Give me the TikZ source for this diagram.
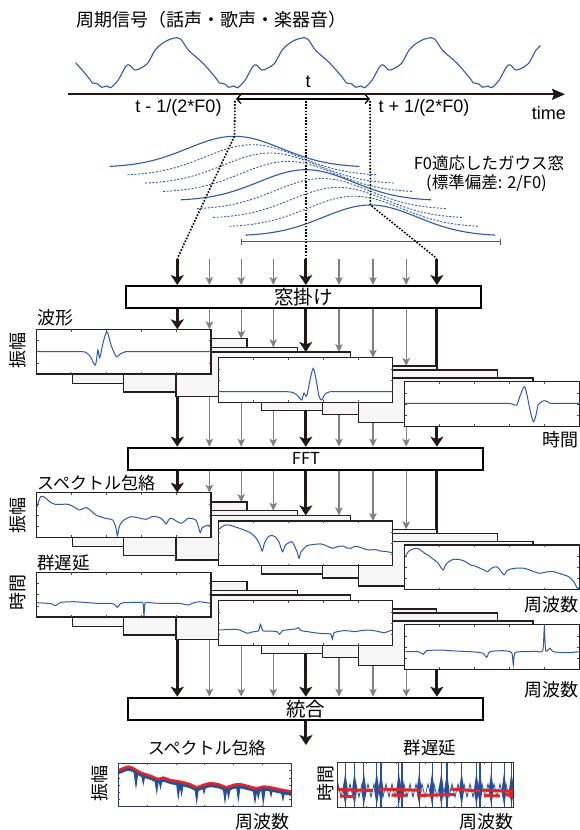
\documentclass[tikz,border=0pt]{standalone}
\usepackage{fontspec}
\setmainfont{Noto Sans CJK JP}
\newfontfamily\latf{Liberation Sans}
\usetikzlibrary{arrows.meta}
\newcommand\fsz[1]{\fontsize{#1}{#1}\selectfont}
\definecolor{dk}{RGB}{35,24,21}
\definecolor{ag}{RGB}{128,128,128}
\definecolor{pb}{RGB}{35,31,32}
\definecolor{shf}{RGB}{247,247,247}
\definecolor{bl}{RGB}{46,90,168}
\definecolor{bf}{RGB}{38,78,155}
\definecolor{rd}{RGB}{226,38,38}
\definecolor{navy}{RGB}{40,55,100}
\newcommand\shpanel[2]{\draw[shp] ({#1},{#2}) rectangle ++(174.5,44.7);}
\newcommand\mnpanel[2]{\draw[mnp] ({#1},{#2}) rectangle ++(174.5,44.7);
  \foreach \q in {1,...,4} {\draw[tck] ({#1+34.9*\q},{#2}) -- ++(0,2.2); \draw[tck] ({#1+34.9*\q},{#2+44.7}) -- ++(0,-2.2);}
  \foreach \q in {1,2,3} {\draw[tck] ({#1},{#2+11.175*\q}) -- ++(2.2,0); \draw[tck] ({#1+174.5},{#2+11.175*\q}) -- ++(-2.2,0);}}
\newcommand\panelstack[1]{\shpanel{72.4}{#1+9.4}\shpanel{123.3}{#1+18}\shpanel{176.1}{#1+22.7}%
  \shpanel{261.8}{#1+36.7}\shpanel{322.7}{#1+40.7}\shpanel{358.6}{#1+48.7}%
  \mnpanel{36.5}{#1}\mnpanel{218.2}{#1+28.4}\mnpanel{404.7}{#1+52.4}}
\begin{document}
\begin{tikzpicture}[x=1pt,y=-1pt,
  lbl/.style={inner sep=0pt},
  thk/.style={line width=3pt, draw=dk, -{Stealth[length=10pt,width=13pt,inset=2.5pt]}},
  thkn/.style={line width=3pt, draw=dk},
  gry/.style={line width=1.4pt, draw=ag, -{Stealth[length=8pt,width=7.5pt,inset=2pt]}},
  shp/.style={line width=1.3pt, draw=pb, fill=shf},
  mnp/.style={line width=1.3pt, draw=pb, fill=white},
  tck/.style={line width=0.5pt, draw=black!70},
  sig/.style={draw=bl, line width=1.1pt},
  crv/.style={draw=bl, line width=1pt},
  gsol/.style={draw=bl, line width=1.1pt},
  gdsh/.style={draw=bl, line width=0.9pt, dash pattern=on 2pt off 1.6pt},
  dotl/.style={draw=black, line width=1.6pt, dash pattern=on 1.6pt off 1.6pt},
  procbox/.style={draw=black, line width=2pt, fill=white, minimum width=355pt, minimum height=22pt, inner sep=0pt}]
\useasboundingbox (0,0) rectangle (579,830);
\fill[white] (0,0) rectangle (579,830);

% ---- title and signal
\node[lbl, anchor=west] (title) at (76,20) {\fsz{18}周期信号（話声・歌声・楽器音）};
\begin{scope}
\clip (75.7,20) rectangle (540.5,92);
\foreach \k in {-1,...,3} {
  \draw[sig, shift={(127*\k,0)}] plot[smooth, tension=0.5] coordinates {(92.3,83) (97.9,84) (101.6,87.3) (107.1,86) (110.8,87.7) (118.2,80) (125.6,66.7) (129.3,65) (134.8,70) (140.3,68.3) (147.7,63.3) (155.1,50) (162.5,43.3) (169.9,39.3) (177.3,37.7) (181,39.3) (188.3,50) (195.7,56.7) (203.1,63.3) (214.2,76) (219.3,83)};
}
\end{scope}
\coordinate (ax0) at (68,94.3);
\coordinate (ax1) at (565,94.3);
\draw[dk, line width=2pt, -{Stealth[length=13pt,width=11pt,inset=2pt]}] (ax0) -- (ax1);
\node[lbl] (tlab) at (308,81.7) {\latf\fsz{18}t};
\coordinate (tm) at (236,99);
\coordinate (tp) at (370,99);
\draw[line width=1.3pt, {Straight Barb[length=4pt,width=9pt]}-{Straight Barb[length=4pt,width=9pt]}] (tm) -- (tp);
\node[lbl] (tmlab) at (178.5,108.3) {\latf\fsz{18}t - 1/(2*F0)};
\node[lbl] (tplab) at (424,108.3) {\latf\fsz{18}t + 1/(2*F0)};
\node[lbl, anchor=east] (timelab) at (566,113.3) {\latf\fsz{18}time};

% ---- gaussian windows
\foreach \c/\b/\s in {252.3/175.7/gdsh, 270.2/184.0/gdsh, 288.0/192.4/gdsh, 322.0/209.5/gdsh, 338.1/218.4/gdsh, 354.3/227.2/gdsh, 234.5/167.3/gsol, 305.8/200.7/gsol, 370.4/236.0/gsol} {
  \draw[\s] plot[domain=-125:125, samples=90, smooth] ({\c+\x},{\b-31*exp(-0.5*(\x/47)^2)});
}
\draw[black!65, line width=1pt] (241.9,238.5) -- (241.9,244.9) (241.9,241.7) -- (500.4,241.7) (500.4,238.5) -- (500.4,244.9);
\node[lbl] (gw1) at (489,163.3) {\fsz{16.5}F0適応したガウス窓};
\node[lbl] (gw2) at (486.5,183.3) {\fsz{16.5}(標準偏差: 2/F0)};

% ---- columns
\foreach \i/\xx in {1/177.3,2/209.4,3/241.2,4/273.3,5/305.8,6/339,7/373,8/406.2,9/436.9}
  \coordinate (c\i) at (\xx,258.5);
\draw[dotl] (235,101) -- (234.5,136) -- (c1);
\draw[dotl] (305.8,101) -- (c5);
\draw[dotl] (370,101) -- (370.4,205) -- (c9);

% ---- process boxes
\node[procbox] (win) at (303.35,297) {\fsz{19.5}窓掛け};
\node[procbox] (fft) at (305.95,458.7) {\fsz{16.5}FFT};
\node[procbox] (merge) at (305.95,708.7) {\fsz{19.5}統合};

% ---- arrows
\foreach \i/\xx/\sa/\sb/\dd in {1/177.3/thk/thk/0, 2/209.4/gry/gry/0, 3/241.2/gry/gry/9.4, 4/273.3/gry/gry/18, 5/305.8/thk/thk/22.7, 6/339/gry/gry/22.7, 7/373/gry/gry/28.4, 8/406.2/gry/gry/36.7, 9/436.9/thk/thkn/40.7} {
  \draw[\sa] (c\i) -- (c\i |- win.north);
  \draw[\sb] (c\i |- win.south) -- (\xx,{329.3+\dd});
  \draw[\sa] (\xx,385) -- (c\i |- fft.north);
  \draw[\sb] (c\i |- fft.south) -- (\xx,{492.7+\dd});
  \draw[\sa] (\xx,628) -- (c\i |- merge.north);
}
\coordinate (outp) at (305.95,745);
\draw[thk] (merge.south) -- (outp);

% ---- panel stacks
\panelstack{329.3}
\panelstack{492.7}
\panelstack{572.3}

% section 1 waveforms
\draw[crv] (36.5,351.7) -- (79.4,351.7) plot[smooth, tension=0.5] coordinates {(79.4,351.7) (85,352) (90,356) (95.3,365) (97.9,350) (99.7,358) (103,343) (107,331.7) (111,345) (116.3,356.7) (120,354) (125.6,351.7)} -- (210.3,351.7);
\draw[crv] (218.2,391.7) -- (286.7,391.7) plot[smooth, tension=0.5] coordinates {(286.7,391.7) (293,392.5) (298,396) (301.7,400) (304,393) (306.7,396) (310,380) (313.3,368.3) (316.5,382) (319,396) (321.7,400) (325,394) (330,391.7)} -- (392,391.7);
\draw[crv] (404.7,403.3) -- (508.3,403.3) plot[smooth, tension=0.5] coordinates {(508.3,403.3) (512,404) (516.7,405) (520,396) (524.3,386.7) (527,395) (530,410) (533.3,421.7) (536,415) (538,405) (540,403) (543,401) (545,400.7) (548,402) (550,403.3)} -- (580,403.3);

% section 2 spectral envelopes
\draw[crv] plot[smooth, tension=0.45] coordinates {(37,506.7) (40.6,496.7) (45,497.5) (50,502) (55.4,504.3) (68.3,504.3) (74,507) (79.4,510) (86.8,507.7) (96,515) (105.2,518.3) (112.6,520) (116,528) (117.4,535.7) (119,528) (121.9,521.7) (131.1,516.7) (145.9,519.3) (152,516.5) (158.8,517.3) (163,520) (166.2,524) (168.5,520) (171.7,518.3) (181,523.3) (188.3,518.3) (195.7,520) (198.5,527) (200.2,532.7) (202,528) (205,526) (210.3,525.3)};
\draw[crv] plot[smooth, tension=0.45] coordinates {(218.8,529.3) (224,525.5) (229,525) (236.4,527.3) (244,530) (251.1,533.3) (256,538) (260,545) (262.2,551) (264.5,543) (267.7,537.3) (271,535.5) (275.1,536.7) (279,542) (282.5,551.7) (285.5,545) (291.7,541.7) (295,547) (297.5,553) (299.1,558.3) (301,552) (306.5,546) (313,544.5) (321.3,544) (327,546) (332.4,548.3) (338,546.5) (343.4,546) (347,548) (350.8,548.3) (355,546.3) (358.2,546.7) (363,548.5) (369.3,550) (375,549.5) (380.4,551) (386,551.5) (392.2,552.7)};
\draw[crv] plot[smooth, tension=0.45] coordinates {(405.3,556.7) (409,551) (415.5,548.3) (420,549.5) (424.7,553.3) (428,555) (432.1,558.3) (435,560.5) (437.6,562.7) (440,566) (443.2,570) (445.5,565) (448.7,561.7) (453,559.5) (457.9,559.3) (464,561) (470.8,565) (475,566) (480.1,568.3) (484,570) (487.5,571.7) (492,568) (496.7,566.7) (500,570) (504.1,575) (506.5,571) (509.6,569.3) (516,568.2) (524.4,568.3) (531,570.5) (539.2,573.3) (546,572) (554,571.7) (561,574) (568.7,576.7) (574,582) (577.9,589) (580,585)};

% section 3 group delay
\draw[crv] plot[smooth, tension=0.4] coordinates {(37,602.7) (48,603.3) (52,604) (55.4,605.7) (58,604) (61,602.3) (73.9,601.7) (88.6,602.7) (100,603.5) (110.8,603.3) (114.5,604.5) (117.4,607.3) (120,604) (123.7,602.7) (140.3,602.3) (143,603) (144,616) (145,603) (150,602.7) (158.8,603.3) (177.3,603.3) (183,604) (188.3,605) (193,603) (199.4,601.7) (205,602.5) (210.3,603.3)};
\draw[crv] plot[smooth, tension=0.4] coordinates {(218.8,630) (236.4,629.3) (242,631) (247.4,633.3) (252,632) (258.5,630.7) (260.4,624.3) (262.9,630.7) (270,631) (277,631.7) (279.6,634.3) (282.5,630.7) (290,629.5) (295.4,629) (298.4,627.7) (301,630.7) (307,631.5) (313.9,632.7) (322,633.5) (330.5,634) (332.4,639.3) (334.2,632.7) (343.4,630.7) (350,631) (354.5,631.7) (362,630.5) (369.3,630) (376,631) (384.1,632.7) (388,631.5) (392.2,630)};
\draw[crv] plot[smooth, tension=0.4] coordinates {(405.3,651.7) (418.3,651.7) (423.3,654.3) (426.7,650.7) (440,650) (450,650.7) (460,651.2) (470,651.7) (478,652.3) (483.3,653.3) (486.7,657.3) (490,651.7) (503.3,650.7) (511.7,652.7) (513.3,665) (515,652.7) (526.7,651.7) (535,651.2) (542.7,650.7) (544.3,627.3) (545.7,650.7) (550,648.3) (553.3,651.7) (566.7,652.7) (580,651.7)};

% ---- stack labels
\node[lbl, anchor=west] (wavelab) at (37,317.3) {\fsz{18}波形};
\node[lbl, rotate=90] (amp1) at (17.5,350) {\fsz{18}振幅};
\node[lbl, anchor=east] (time1) at (578.5,440) {\fsz{18}時間};
\node[lbl, anchor=west] (envlab) at (37,482.7) {\fsz{17}スペクトル包絡};
\node[lbl, rotate=90] (amp2) at (17.5,515.5) {\fsz{18}振幅};
\node[lbl, anchor=east] (freq2) at (578.5,605) {\fsz{18}周波数};
\node[lbl, anchor=west] (gdlab) at (37,562.7) {\fsz{17.5}群遅延};
\node[lbl, rotate=90] (time3) at (17.5,592.5) {\fsz{18}時間};
\node[lbl, anchor=east] (freq3) at (578.5,690) {\fsz{18}周波数};

% ---- bottom results
\node[lbl] (envres) at (206.8,748.3) {\fsz{17}スペクトル包絡};
\node[lbl] (gdres) at (430.2,748.3) {\fsz{17.5}群遅延};
\node[lbl, rotate=90] (amp4) at (99.7,783.3) {\fsz{18}振幅};
\node[lbl, rotate=90] (time4) at (326,783) {\fsz{18}時間};
\node[lbl, anchor=east] (freq4) at (290,821.7) {\fsz{18}周波数};
\node[lbl, anchor=east] (freq5) at (513.3,821.7) {\fsz{18}周波数};

% left result plot
\begin{scope}
\clip (118.2,763.3) rectangle (291,806.7);
\fill[bf] plot[smooth] coordinates {(117,771) (123.3,768.3) (128.3,766.7) (133.3,768.3) (140,772.3) (150,775.7) (158.3,779) (163.3,777.7) (170,780) (180,781.7) (190,784.3) (196.7,787.3) (203.3,785) (210,783.3) (218.3,784.3) (226.7,787.3) (233.3,785) (240,784.3) (250,786.7) (256.7,788.3) (263.3,786.7) (270,787.3) (280,789.5) (292,791.7)}
  -- plot[smooth] coordinates {(292,796) (280,793.5) (270,791.3) (263.3,790.7) (256.7,792.3) (250,790.7) (240,788.3) (233.3,789) (226.7,791.3) (218.3,788.3) (210,787.3) (203.3,789) (196.7,791.3) (190,788.3) (180,785.7) (170,784) (163.3,781.7) (158.3,783) (150,779.7) (140,776.3) (133.3,772.3) (128.3,770.7) (123.3,772.3) (117,775)} -- cycle;
\foreach \sx/\st/\sb in {136/771/790, 143.3/773/786, 156.7/778/795, 160.5/778/790, 178.3/781/801, 181.5/782/797, 196.7/786/805, 204/785/795, 225/786/805, 228.5/786/800, 238.3/784.5/803, 255/788/805, 258.3/788/800, 263.3/787/806, 271/787.5/798, 283/790/802}
  \fill[bf] ({\sx-2.6},\st) -- ({\sx+2.6},\st) -- (\sx,\sb) -- cycle;
\draw[rd, line width=2.6pt] plot[smooth] coordinates {(117,771) (123.3,768.3) (128.3,766.7) (133.3,768.3) (140,772.3) (150,775.7) (158.3,779) (163.3,777.7) (170,780) (180,781.7) (190,784.3) (196.7,787.3) (203.3,785) (210,783.3) (218.3,784.3) (226.7,787.3) (233.3,785) (240,784.3) (250,786.7) (256.7,788.3) (263.3,786.7) (270,787.3) (280,789.5) (292,791.7)};
\end{scope}
\draw[navy, line width=1pt] (118.2,763.3) rectangle (291,806.7);
\foreach \q in {1,...,5} {\draw[tck] ({118.2+28.8*\q},806.7) -- ++(0,-2); \draw[tck] ({118.2+28.8*\q},763.3) -- ++(0,2);}
\foreach \q in {1,...,5} {\draw[tck] (118.2,{763.3+7.23*\q}) -- ++(2,0); \draw[tck] (291,{763.3+7.23*\q}) -- ++(-2,0);}

% right result plot
\begin{scope}
\clip (337.2,762.3) rectangle (513.3,807.7);
\draw[bf, line width=0.8pt] (338,790) \foreach \t in {0,...,58} { -- ({338+3*\t},{790.5+6.5*(2*mod(\t,2)-1)}) };
\foreach \sx in {345.3,354.5,363.8,376.7,381,398.8,402,419.2,432.1,441.3,446.9,461.6,476.4,480,491.2,504.1,511.5} {
  \draw[bf, line width=1.2pt] (\sx,762) -- (\sx,808);
  \fill[bf] ({\sx-2.5},790) -- (\sx,772) -- ({\sx+2.5},790) -- (\sx,806) -- cycle;
}
\draw[rd, line width=3pt] (337,789.5) -- (373,790.5) (378.5,789) -- (421,790.3) (450.5,789) -- (480,791) (482,790) -- (514,791.5);
\draw[rd, line width=3pt] (340,796) -- (356,796.5) (391.5,795) -- (406,795.5) (417,795.5) -- (454,794.5) (484,795.5) -- (500,796) (505,794.5) -- (514,796);
\end{scope}
\draw[black!80, line width=1.2pt] (337.2,762.3) rectangle (513.3,807.7);
\foreach \q in {1,...,5} {\draw[tck] ({337.2+29.35*\q},807.7) -- ++(0,-2); \draw[tck] ({337.2+29.35*\q},762.3) -- ++(0,2);}
\end{tikzpicture}
\end{document}
